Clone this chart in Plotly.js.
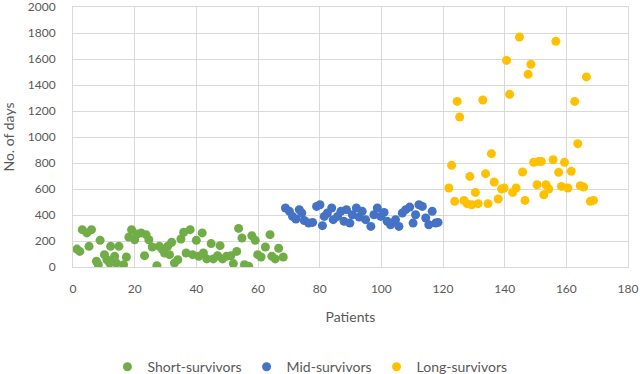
<!DOCTYPE html>
<html>
<head>
<meta charset="utf-8">
<script src="https://cdn.plot.ly/plotly-3.0.1.min.js"></script>
<style>
  html, body { margin: 0; padding: 0; background: #fff; }
  #graph { width: 640px; height: 374px; }
</style>
</head>
<body>
<div id="graph"></div>
<script>
/* datos */
const shortX = [1.3, 2.2, 3, 4.5, 5.2, 6, 7.6, 8.2, 8.8, 10.2, 11, 11.9, 12.2, 13.5, 14, 14.9, 16.4, 17.3,
    18.1, 19, 20, 20.7, 22.1, 23.2, 23.7, 24.6, 25.7, 27.2, 28, 28.9, 29.7, 30.7, 31.3, 32, 32.9, 34,
    35, 35.9, 36.7, 38, 38.8, 40, 40.8, 41.9, 42.3, 43.4, 44.8, 45.5, 46.9, 47.7, 48.5, 49.8, 51.2, 52,
    53.1, 53.7, 54.8, 55.6, 57, 58, 59.1, 59.9, 61, 62.4, 63.9, 64.5, 65.6, 66.7, 68.2];
const shortY = [138, 120, 287, 262, 159, 287, 44, 18, 205, 95, 56, 31, 159, 82, 31, 159, 18, 77,
    230, 287, 210, 254, 262, 87, 249, 210, 154, 10, 159, 138, 108, 159, 95, 190, 31, 56,
    215, 267, 108, 287, 95, 205, 82, 262, 108, 62, 180, 62, 87, 164, 62, 82, 87, 26,
    120, 297, 223, 18, 5, 241, 205, 95, 77, 154, 249, 82, 62, 144, 77];

const midX = [68.9, 70.2, 71.2, 72.3, 73.4, 74.2, 75, 76.4, 77.7, 79, 80.1, 80.9, 81.5, 82.5, 83.9, 84.4,
    85.8, 86.9, 87.9, 88.7, 89.8, 90.6, 91.9, 92.8, 93.8, 94.9, 96.6, 97.6, 98.7, 99.8, 100.9, 101.9,
    103, 104.6, 105.7, 106.8, 107.9, 109.2, 110.3, 111.1, 112.2, 113.3, 114.4, 115.4, 116.5, 117.6, 118.4];
const midY = [454, 428, 389, 369, 441, 415, 358, 338, 343, 466, 479, 318, 389, 415, 454, 364,
    389, 428, 351, 441, 338, 402, 454, 384, 428, 364, 312, 402, 454, 389, 420, 351,
    325, 364, 312, 415, 441, 461, 338, 402, 479, 466, 377, 325, 428, 338, 343];

const longX = [121.9, 122.8, 123.8, 124.6, 125.4, 126.8, 127.8, 128.7, 129.3, 130.5, 131.4, 132.9, 133.8,
    134.6, 135.7, 136.6, 137.9, 139, 139.8, 140.6, 141.6, 142.6, 143.7, 144.8, 145.8, 146.6, 147.6,
    148.5, 149.4, 150.5, 151, 151.9, 152.7, 153.4, 154.3, 155.7, 156.6, 157.5, 158.4, 159.4, 160.5,
    161.6, 162.7, 163.7, 164.5, 165.6, 166.5, 167.8, 168.8];
const longY = [608, 782, 505, 1274, 1154, 512, 487, 697, 479, 574, 487, 1285, 718,
    487, 872, 654, 523, 600, 608, 1589, 1328, 574, 608, 1769, 731, 512, 1482,
    1559, 805, 633, 812, 812, 556, 633, 600, 825, 1736, 728, 620, 805, 608,
    736, 1274, 949, 625, 615, 1462, 505, 512];

const seriesNames = ['Short-survivors', 'Mid-survivors', 'Long-survivors'];
const seriesColors = ['#70AD47', '#4472C4', '#FFC000'];

const xTicks = [0, 20, 40, 60, 80, 100, 120, 140, 160, 180];
const yTicks = [0, 200, 400, 600, 800, 1000, 1200, 1400, 1600, 1800, 2000];

function showGraph(){
    const graph = document.getElementById('graph');
    const fuente = 'Lato, "Liberation Sans", sans-serif';

    const xs = [shortX, midX, longX];
    const ys = [shortY, midY, longY];
    const traces = [];
    for (let i = 0; i < 3; i++){
        traces.push({
            type: 'scatter',
            mode: 'markers',
            x: xs[i],
            y: ys[i],
            name: seriesNames[i],
            marker: {color: seriesColors[i], size: 9}
        });
    }

    const layout = {
        width: 640,
        height: 374,
        margin: {l: 73, r: 12, t: 7, b: 107, autoexpand: false},
        paper_bgcolor: '#ffffff',
        plot_bgcolor: '#ffffff',
        font: {family: fuente, size: 12, color: '#595959'},
        showlegend: true,
        legend: {
            orientation: 'h',
            x: 0.062, xanchor: 'left',
            y: -0.385, yanchor: 'middle',
            font: {size: 14, color: '#595959'},
            itemwidth: 30
        },
        xaxis: {
            range: [0, 180],
            tickvals: xTicks,
            showgrid: true,
            gridcolor: '#d9d9d9',
            zeroline: false,
            showline: true,
            linecolor: '#d9d9d9',
            mirror: true,
            ticks: '',
            ticklabelstandoff: 11,
            ticklabeloverflow: 'allow',
            title: {text: 'Patients', font: {size: 14, color: '#595959'}, standoff: 16}
        },
        yaxis: {
            range: [0, 2000],
            tickvals: yTicks,
            showgrid: true,
            gridcolor: '#d9d9d9',
            zeroline: false,
            showline: true,
            linecolor: '#d9d9d9',
            mirror: true,
            ticks: '',
            ticklabelstandoff: 14,
            ticklabeloverflow: 'allow',
            title: {text: 'No. of days', font: {size: 14, color: '#595959'}, standoff: 10}
        }
    };

    Plotly.newPlot(graph, traces, layout, {displayModeBar: false, staticPlot: true});
}

showGraph();
</script>
</body>
</html>
